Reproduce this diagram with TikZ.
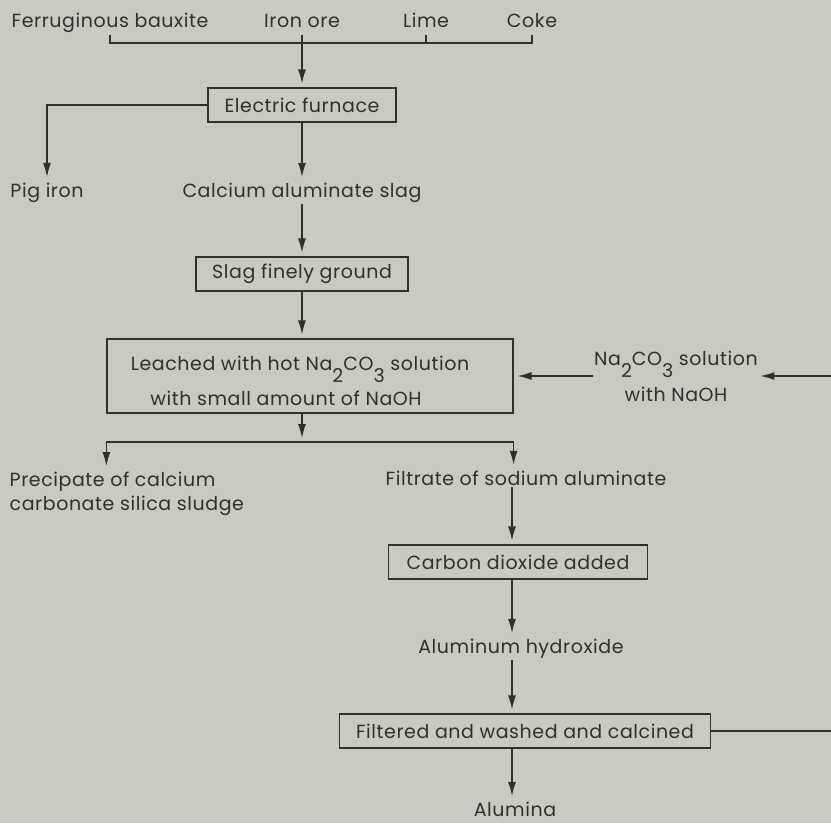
\documentclass[tikz,border=0pt]{standalone}
\usepackage{fontspec}
\setmainfont{Poppins}[LetterSpace=3]
\usetikzlibrary{arrows.meta,positioning,calc}
\definecolor{paper}{RGB}{202,202,194}
\definecolor{ink}{RGB}{48,48,46}
\tikzset{>={Latex[length=14pt,width=8pt]}}
\newcommand{\chemsub}[1]{\raisebox{-12pt}{#1}}

\begin{document}
\begin{tikzpicture}[x=1pt, y=-1pt,
    every node/.style={text=ink, font=\fontsize{19}{24}\selectfont},
    box/.style={draw=ink, line width=1.2pt, minimum height=34pt, inner sep=0pt},
    txt/.style={inner sep=1.5pt, anchor=base},
    line/.style={draw=ink, line width=1.2pt},
    flow/.style={line, ->, shorten >=4pt}]
        \fill[paper] (0,0) rectangle (831,823);
        \useasboundingbox (0,0) rectangle (831,823);

        % raw materials
        \node[txt] (bauxite) at (110,27) {Ferruginous bauxite};
        \node[txt] (iron) at (302,27) {Iron ore};
        \node[txt] (lime) at (426,27) {Lime};
        \node[txt] (coke) at (532,27) {Coke};
        \coordinate (bar) at (302,43);

        % furnace and slag
        \node[box, minimum width=188pt] (furnace) at (302,105) {Electric furnace};
        \node[txt] (pig) at (47,197) {Pig iron};
        \node[txt] (slag) at (302,197) {Calcium aluminate slag};
        \node[box, minimum width=406pt, minimum height=74pt, align=center,
              font=\fontsize{19}{35}\selectfont] (leach) at (310,376)
              {\rule{0pt}{24pt}Leached with hot Na\chemsub{2}CO\chemsub{3} solution\hspace*{20pt}\\with small amount of NaOH\hspace*{48pt}};
        \node[box, minimum width=212pt] (ground) at (302,274) {Slag finely ground};
        \node[inner sep=1.5pt, align=center, font=\fontsize{19}{36}\selectfont] (soda) at (676,376)
              {Na\chemsub{2}CO\chemsub{3} solution\\with NaOH};
        \coordinate (split) at (302,442);
        \coordinate (rettop) at (831,376);

        % products of leaching
        \node[inner sep=1.5pt, anchor=north west, align=left] (precip) at (8,470)
              {Precipate of calcium\\carbonate silica sludge};
        \node[txt] (filtrate) at (526,485) {Filtrate of sodium aluminate};
        \coordinate (low) at (512,0);
        \node[box, minimum width=259pt] (carbon) at (518,562) {Carbon dioxide added};
        \node[txt] (alhyd) at (521,653) {Aluminum hydroxide};
        \node[box, minimum width=371pt] (filtered) at (525,731) {Filtered and washed and calcined};
        \node[txt] (alumina) at (515,816) {Alumina};
        \coordinate (retlow) at (831,731);

        % bracket of the charge
        \draw[line] ([yshift=-8pt]bauxite.base) -- (bauxite.base |- bar) -- (coke.base |- bar) -- ([yshift=-8pt]coke.base);
        \draw[line] ([yshift=-8pt]lime.base) -- (lime.base |- bar);
        \draw[flow] ([yshift=-8pt]iron.base) -- (furnace);

        \draw[flow] (furnace.west) -| (pig);
        \draw[flow] (furnace) -- (slag);
        \draw[flow] (slag) -- (ground);
        \draw[flow] (ground.south) -- (ground.south |- leach.north);

        % sodium carbonate returned
        \draw[flow, shorten >=1pt] (rettop) -- (rettop -| soda.east);
        \draw[flow] (soda.west) -- (soda.west -| leach.east);

        \draw[flow] (leach.south -| split) -- (split);
        \draw[line] (leach.west |- split) -- (leach.east |- split);
        \draw[flow] (leach.west |- split) -- (leach.west |- precip.north);
        \draw[flow] (leach.east |- split) -- (leach.east |- filtrate.north);

        \draw[flow] (filtrate.south -| low) -- (carbon.north -| low);
        \draw[flow] (carbon.south -| low) -- (alhyd.north -| low);
        \draw[flow] (alhyd.south -| low) -- (filtered.north -| low);
        \draw[flow] (filtered.south -| low) -- (alumina.north -| low);
        \draw[line] (filtered.east) -- (retlow);
\end{tikzpicture}
\end{document}
